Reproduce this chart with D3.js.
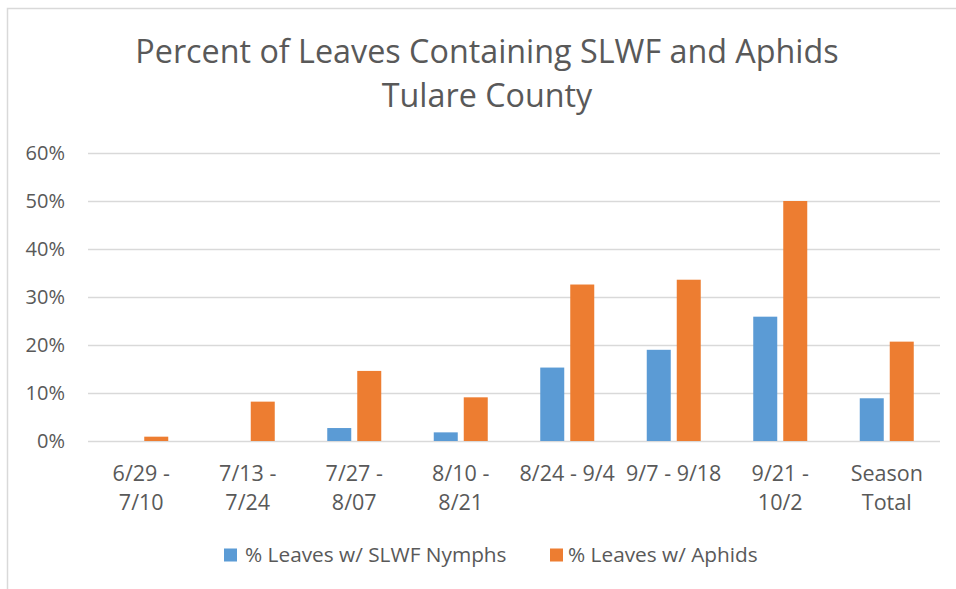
<!DOCTYPE html>
<html><head><meta charset="utf-8">
<script src="https://cdn.jsdelivr.net/npm/d3@7"></script>
<style>body{margin:0;background:#fff}svg{display:block}text{font-family:"Open Sans",Lato,sans-serif;fill:#595959}</style>
</head><body><svg id="c" width="956" height="589"></svg>
<script>
const categories = [["6/29 -","7/10"],["7/13 -","7/24"],["7/27 -","8/07"],["8/10 -","8/21"],["8/24 - 9/4"],["9/7 - 9/18"],["9/21 -","10/2"],["Season","Total"]];
const seriesNames = ["% Leaves w/ SLWF Nymphs","% Leaves w/ Aphids"];
const slwf = [0, 0, 2.7, 1.8, 15.3, 19.0, 25.9, 8.9];
const aphids = [0.9, 8.2, 14.6, 9.1, 32.6, 33.6, 50.0, 20.7];
const yTicks = [0,10,20,30,40,50,60];
const colors = ["#5b9bd5","#ed7d31"];

(function(){
const svg = d3.select("#c");
svg.append("rect").attr("x",7.5).attr("y",8.5).attr("width",1000).attr("height",700)
  .attr("fill","#fff").attr("stroke","#d9d9d9").attr("stroke-width",1.5);

const pl=88, pr=940, pt=153, pb=441;
const x = d3.scaleBand().domain(d3.range(categories.length)).range([pl,pr]);
const y = d3.scaleLinear().domain([0,60]).range([pb,pt]);

svg.append("g").selectAll("line").data(yTicks).join("line")
  .attr("x1",pl).attr("x2",pr).attr("y1",d=>Math.round(y(d))+0.5).attr("y2",d=>Math.round(y(d))+0.5)
  .attr("stroke","#d9d9d9").attr("stroke-width",1.5);

const yAxis = d3.axisLeft(y).tickValues(yTicks).tickFormat(d=>d+"%").tickSize(0).tickPadding(0);
const yg = svg.append("g").attr("transform",`translate(65,0)`).call(yAxis);
yg.select(".domain").remove();
yg.selectAll("text").attr("font-size",20).style("font-family","'Open Sans',sans-serif").attr("fill","#595959");

const bw = 24, gap = 6;
[slwf, aphids].forEach((vals,si)=>{
  svg.append("g").selectAll("rect").data(vals).join("rect")
    .attr("x",(d,i)=>x(i)+x.bandwidth()/2 + (si===0 ? -gap/2-bw : gap/2))
    .attr("y",d=>y(d)).attr("width",bw).attr("height",d=>y(0)-y(d))
    .attr("fill",colors[si]);
});

const cg = svg.append("g");
categories.forEach((lines,i)=>{
  const cx = x(i)+x.bandwidth()/2;
  const t = cg.append("text").attr("text-anchor","middle").attr("font-size",21.5).attr("x",cx);
  lines.forEach((l,j)=>t.append("tspan").attr("x",cx).attr("y",481+j*29).text(l));
});

svg.append("text").attr("x",487).attr("y",63).attr("text-anchor","middle").attr("font-size",32.3).text("Percent of Leaves Containing SLWF and Aphids");
svg.append("text").attr("x",487).attr("y",107).attr("text-anchor","middle").attr("font-size",32.3).text("Tulare County");

const legX = [224, 550];
const legT = [245, 568];
seriesNames.forEach((n,i)=>{
  svg.append("rect").attr("x",legX[i]).attr("y",548.5).attr("width",13).attr("height",13).attr("fill",colors[i]);
  svg.append("text").attr("x",legT[i]).attr("y",561.5).attr("font-size",20.8).text(n);
});
})();
</script></body></html>
